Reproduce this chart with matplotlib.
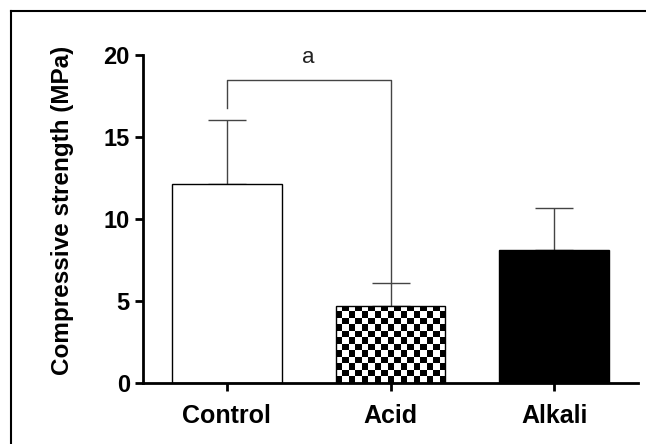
import numpy as np
import matplotlib
matplotlib.use('Agg')
import matplotlib.pyplot as plt
from matplotlib.lines import Line2D

groups = ['Control', 'Acid', 'Alkali']
means = [12.15, 4.7, 8.1]
sd = [3.9, 1.4, 2.6]
# significance bracket between Control and Acid
bracket_y = 18.45
bracket_left_end = 16.75
sig_label = 'a'

plt.rcParams['font.family'] = ['Liberation Sans', 'DejaVu Sans']
plt.rcParams['font.weight'] = 'bold'

fig = plt.figure(figsize=(6.46, 4.44), dpi=100)
ax_left, ax_bottom = 143/646, 1-383/444
ax_w, ax_h = (638-143)/646, (383-55)/444
ax = fig.add_axes([ax_left, ax_bottom, ax_w, ax_h])

x = np.arange(len(groups))
bw = 0.67
bars = ax.bar(x, means, width=bw, color=['white', 'white', 'black'],
              edgecolor='black', linewidth=1.0, zorder=2)
ax.errorbar(x, means, yerr=[np.zeros(len(sd)), sd], fmt='none',
            ecolor='#444444', elinewidth=1.0, capsize=14, capthick=1.0, zorder=1)

ax.set_xlim(-0.51, 2.51)
ax.set_ylim(0, 20)

# checkerboard fill for the Acid bar, square cells
px_per_x = ax_w * 646 / (2.51 + 0.51)
px_per_y = ax_h * 444 / 20
ncol = 17
cell_px = bw * px_per_x / ncol
nrow = int(np.ceil(means[1] * px_per_y / cell_px)) + 1
checker = (np.add.outer(np.arange(nrow), np.arange(ncol)) % 2).astype(float)
x0 = x[1] - bw / 2
im = ax.imshow(checker, cmap='gray', vmin=0, vmax=1,
               extent=[x0, x0 + bw, 0, nrow * cell_px / px_per_y],
               origin='upper', aspect='auto', interpolation='nearest', zorder=2.5)
im.set_clip_path(bars[1])
bars[1].set_facecolor('none')
bars[1].set_zorder(3)
ax.set_xlim(-0.51, 2.51)
ax.set_ylim(0, 20)

# bracket
ax.plot([0, 0, 1, 1], [bracket_left_end, bracket_y, bracket_y, means[1] + sd[1]],
        color='#444444', lw=1.0, zorder=1)
ax.text(0.5, 19.85, sig_label, ha='center', va='center', fontsize=16,
        fontweight='normal', color='#222222')

ax.set_yticks([0, 5, 10, 15, 20])
ax.set_xticks(x)
ax.set_xticklabels(groups)
ax.spines['top'].set_visible(False)
ax.spines['right'].set_visible(False)
for s in ['left', 'bottom']:
    ax.spines[s].set_linewidth(2.0)
ax.tick_params(axis='both', width=2.0, length=6, labelsize=17, colors='black')
ax.tick_params(axis='x', labelsize=18, pad=9)
ax.set_ylabel('Compressive strength (MPa)', fontsize=17.5, fontweight='bold')
ax.yaxis.set_label_coords(-0.14, 0.525)

# outer frame (left and top edges visible)
fig.add_artist(Line2D([11/646, 11/646], [0, 1-11/444], transform=fig.transFigure,
                      color='black', lw=1.5))
fig.add_artist(Line2D([11/646, 1], [1-11/444, 1-11/444], transform=fig.transFigure,
                      color='black', lw=1.5))

fig.savefig('out.png', dpi=100)
